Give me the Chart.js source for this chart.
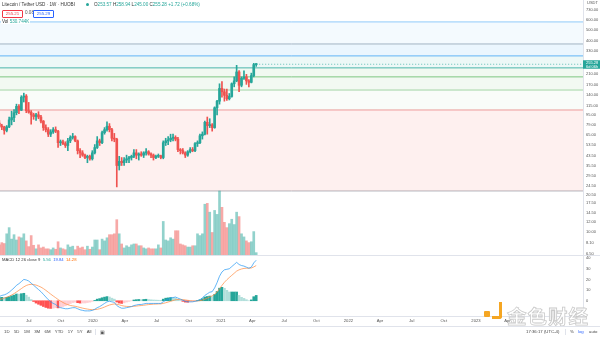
<!DOCTYPE html>
<html>
<head>
<meta charset="utf-8">
<script src="https://cdn.jsdelivr.net/npm/chart.js@4.4.0/dist/chart.umd.min.js"></script>
<style>
  html, body { margin: 0; padding: 0; background: #fff; width: 600px; height: 337px; overflow: hidden; }
  body { position: relative; font-family: "Liberation Sans", Arial, sans-serif; }
  #wrap { position: absolute; left: 0; top: 0; width: 600px; height: 326px; }
  .t { position: absolute; white-space: nowrap; font-size: 4.6px; line-height: 1; color: #131722; }
  .g { color: #26a69a; }
  .box { position: absolute; font-size: 4.4px; line-height: 6px; height: 6px; text-align: center; border-radius: 1px; }
  #footer { position: absolute; left: 0; top: 326px; width: 600px; height: 11px; border-top: 1px solid #e0e3eb; }
  .wm { position: absolute; left: 507px; top: 301px; font-family: "Noto Sans CJK SC", sans-serif; font-weight: 700;
        font-size: 19.5px; letter-spacing: 1px; color: rgba(255,255,255,0.85); -webkit-text-stroke: 0.8px #c9c9c9; }
</style>
</head>
<body>
<div id="wrap"><canvas id="chart" width="600" height="326"></canvas></div>

<!-- legend / header -->
<div class="t" style="left:2px;top:2.5px;color:#333">Litecoin / Tether USD · 1W · HUOBI</div>
<div style="position:absolute;left:86px;top:3px;width:3px;height:3px;border-radius:50%;background:#26a69a"></div>
<div class="t" style="left:94px;top:2.5px;color:#333">O<span class="g">253.57</span> H<span class="g">258.94</span> L<span class="g">245.00</span> C<span class="g">255.28</span> <span class="g">+1.72 (+0.68%)</span></div>
<div class="box" style="left:2px;top:9.5px;width:19px;border:0.7px solid #f23645;color:#f23645;background:#fff">255.21</div>
<div class="t" style="left:25px;top:11px;color:#555">0.08</div>
<div class="box" style="left:33px;top:9.5px;width:19px;border:0.7px solid #2962ff;color:#2962ff;background:#fff">255.29</div>
<div class="t" style="left:1px;top:19.5px;background:#fff;padding:0 1px;color:#333">Vol <span class="g">530.744K</span></div>
<div class="t" style="left:587px;top:1px;font-size:4px;color:#555">USDT</div>
<div class="t" style="left:2px;top:257.5px;font-size:4.2px;color:#333">MACD 12 26 close 9&nbsp; <span class="g">5.56</span>&nbsp; <span style="color:#2962ff">19.84</span>&nbsp; <span style="color:#ff6d00">14.28</span></div>

<!-- watermark -->
<div style="position:absolute;left:484px;top:311px;width:6px;height:6px;background:#f5a623;border-radius:1px"></div>
<div style="position:absolute;left:492px;top:302px;width:10px;height:17px;border:3.5px solid #f5a623;border-left:none;border-top:none;box-sizing:border-box;border-radius:0 0 3px 0"></div>
<div class="wm">金色财经</div>

<div id="footer">
  <div class="t" style="left:4px;top:3px;font-size:4.3px;color:#444;word-spacing:3.2px">1D 5D 1M 3M 6M YTD 1Y 5Y All</div>
  <div style="position:absolute;left:95px;top:2px;width:0.8px;height:6px;background:#e0e3eb"></div>
  <div class="t" style="left:100px;top:2.5px;font-size:5px;color:#555">▣</div>
  <div class="t" style="left:526px;top:3px;font-size:4.3px;color:#444">17:36:17 (UTC-4)</div>
  <div style="position:absolute;left:565px;top:2px;width:0.8px;height:6px;background:#e0e3eb"></div>
  <div class="t" style="left:570px;top:3px;font-size:4.3px;color:#444">%</div>
  <div class="t" style="left:578px;top:3px;font-size:4.3px;color:#2962ff">log</div>
  <div class="t" style="left:589px;top:3px;font-size:4.3px;color:#444">auto</div>
</div>

<script>
// weekly candles, first one = week of 2019-04-08 (38 weeks before 2019-12-30)
const firstWeek = -38;
const opens = [82, 77, 76, 71, 76, 87, 91, 100, 113, 105,
  135, 138, 104, 101, 96, 93, 96, 92, 85, 75,
  72, 66, 69, 72, 70, 56, 57, 55, 53, 58,
  62, 63, 58, 48, 46, 44, 42, 43, 41, 46,
  51, 58, 56, 68, 72, 77, 72, 61, 60, 36,
  39, 38, 40, 41, 42, 43, 46, 44, 45, 44,
  46, 47, 45, 44, 42, 43, 43.5, 42, 56, 58,
  59, 61, 62, 60, 49, 48, 46, 44, 47, 49,
  48, 55, 56, 64, 66, 83, 78, 79, 75, 110,
  125, 160, 150, 140, 131, 137, 175, 185, 220, 170,
  195, 200, 185, 180, 205, 253.57];
const highs = [86, 80, 77, 78, 92, 103, 106, 118, 117, 139,
  146, 142, 122, 104, 99, 99, 102, 95, 86, 79,
  75, 72, 75, 76, 71, 59, 59, 57, 61, 64,
  67, 64, 59, 50, 48, 45, 44, 44, 48, 54,
  63, 60, 70, 75, 84, 81, 74, 67, 61, 43,
  42, 42, 44, 43, 44, 49, 49, 46, 47, 47,
  50, 48, 46, 45, 44, 45, 44, 58, 61, 63,
  66, 66, 64, 62, 50, 50, 47, 48, 51, 51,
  56, 58, 66, 69, 85, 92, 89, 81, 112, 127,
  175, 183, 158, 158, 145, 178, 200, 250, 226, 200,
  225, 210, 190, 215, 260, 258.94];
const lows = [75, 72, 66, 69, 75, 79, 84, 96, 98, 104,
  123, 100, 99, 80, 88, 86, 89, 82, 71, 69,
  63, 63, 67, 68, 51, 53, 54, 51, 48, 56,
  60, 57, 45, 42, 43, 41, 38, 40, 40, 45,
  50, 53, 55, 66, 70, 69, 58, 57, 23.8, 33,
  36, 36, 38, 38, 40, 42, 41, 40, 43, 42,
  44, 44, 42, 40, 41, 42, 41, 41, 53, 54,
  57, 58, 58, 47, 45, 45, 42, 43, 46, 47,
  47, 52, 55, 60, 65, 66, 75, 70, 74, 96,
  118, 135, 125, 127, 128, 135, 165, 182, 150, 165,
  190, 173, 165, 178, 200, 245];
const closes = [77, 76, 71, 76, 87, 91, 100, 113, 105, 135,
  138, 104, 101, 96, 93, 96, 92, 85, 75, 72,
  66, 69, 72, 70, 56, 57, 55, 53, 58, 62,
  63, 58, 48, 46, 44, 42, 43, 41, 46, 51,
  58, 56, 68, 72, 77, 72, 61, 60, 36, 39,
  38, 40, 41, 42, 43, 46, 44, 45, 44, 46,
  47, 45, 44, 42, 43, 43.5, 42, 56, 58, 59,
  61, 62, 60, 49, 48, 46, 44, 47, 49, 48,
  55, 56, 64, 66, 83, 78, 79, 75, 110, 125,
  160, 150, 140, 131, 137, 175, 185, 220, 170, 195,
  200, 185, 180, 205, 253.57, 255.28];
// volume, millions of LTC
const volumes = [2.3, 2.8, 2.6, 4.8, 6.2, 3.6, 4.6, 3.4, 4.1, 3.9,
  4.8, 3.2, 1.9, 4.4, 2.2, 1.4, 2.3, 1.6, 1.8, 1.4,
  1.4, 1.2, 1.6, 1.3, 3.0, 1.6, 1.4, 1.2, 2.3, 1.8,
  2.0, 1.2, 2.0, 1.6, 1.8, 1.2, 2.0, 1.3, 1.8, 3.4,
  3.4, 1.2, 3.6, 3.2, 3.9, 4.6, 4.6, 4.8, 8.0, 4.8,
  2.5, 1.6, 2.1, 1.8, 2.3, 2.5, 2.5, 2.1, 2.1, 1.6,
  1.4, 1.6, 1.4, 1.4, 1.4, 2.3, 1.6, 7.6, 3.4, 3.2,
  3.9, 3.6, 5.5, 5.5, 2.5, 2.3, 2.1, 1.8, 1.8, 2.1,
  2.1, 4.8, 4.4, 4.8, 11.5, 11.7, 9.7, 5.1, 10.1, 9.2,
  14.5, 10.8, 7.4, 6.2, 7.1, 8.1, 6.9, 9.7, 8.7, 4.8,
  4.1, 3.2, 2.8, 3.0, 5.3, 0.53];
// MACD 12 26 9
const macdLine = [4, 5, 5.5, 6.5, 8, 10, 12, 14.5, 16, 18,
  20, 19.5, 18.5, 16.5, 14.5, 12.5, 10.5, 8.5, 6, 3.5,
  1, -1, -2.5, -3.5, -5.5, -6.5, -7, -7.5, -7.5, -7,
  -6.5, -6.5, -7.5, -8.5, -9, -9.5, -9.5, -9.5, -9, -8,
  -6.5, -5.5, -4, -2.5, -1, -0.5, -1, -1.5, -4.5, -6,
  -7, -7, -6.5, -6, -5.5, -4.5, -4, -3.5, -3.5, -3,
  -2.5, -2.5, -2.5, -2.5, -2.5, -2.5, -2.5, -1, 0.5, 1.5,
  2.5, 3, 3.5, 2.5, 1.5, 0.5, -0.5, -1, -1, -1,
  -0.5, 0, 1, 2.5, 5, 6.5, 8, 8.5, 12, 17,
  23, 27, 29, 29.5, 30, 32, 34, 36, 34, 33,
  32.5, 31.5, 30.5, 31.5, 35.5, 38];
const signalLine = [1, 1.8, 2.5, 3.3, 4.2, 5.4, 6.7, 8.2, 9.8, 11.4,
  13, 14.3, 15.1, 15.4, 15.2, 14.7, 13.8, 12.8, 11.4, 9.8,
  8, 6.2, 4.5, 2.9, 1.2, -0.3, -1.6, -2.8, -3.7, -4.4,
  -4.8, -5.2, -5.7, -6.3, -6.9, -7.4, -7.8, -8.2, -8.4, -8.3,
  -8, -7.5, -6.8, -5.9, -4.9, -4, -3.4, -3, -3.3, -3.8,
  -4.5, -5, -5.3, -5.4, -5.4, -5.2, -5, -4.7, -4.5, -4.2,
  -3.9, -3.6, -3.4, -3.2, -3.1, -3, -2.9, -2.5, -1.9, -1.2,
  -0.5, 0.2, 0.9, 1.2, 1.3, 1.1, 0.8, 0.4, 0.1, -0.1,
  -0.2, -0.2, 0.1, 0.6, 1.5, 2.5, 3.6, 4.6, 6.1, 8.3,
  11.2, 14.4, 17.3, 19.7, 21.8, 23.8, 25.8, 27.8, 29, 29.8,
  30.3, 30.5, 30.5, 30.7, 31.7, 33];
const histogram = [3, 3.2, 3, 3.2, 3.8, 4.6, 5.3, 6.3, 6.2, 6.6,
  7, 5.2, 3.4, 1.1, -0.7, -2.2, -3.3, -4.3, -5.4, -6.3,
  -7, -7.2, -7, -6.4, -6.7, -6.2, -5.4, -4.7, -3.8, -2.6,
  -1.7, -1.3, -1.8, -2.2, -2.1, -2.1, -1.7, -1.3, -0.6, 0.3,
  1.5, 2, 2.8, 3.4, 3.9, 3.5, 2.4, 1.5, -1.2, -2.2,
  -2.5, -2, -1.2, -0.6, -0.1, 0.7, 1, 1.2, 1, 1.2,
  1.4, 1.1, 0.9, 0.7, 0.6, 0.5, 0.4, 1.5, 2.4, 2.7,
  3, 2.8, 2.6, 1.3, 0.2, -0.6, -1.3, -1.4, -1.1, -0.9,
  -0.3, 0.2, 0.9, 1.9, 3.5, 4, 4.4, 3.9, 5.9, 8.7,
  11.8, 12.6, 11.7, 9.8, 8.2, 8.2, 8.2, 8.2, 5, 3.2,
  2.2, 1, 0, 0.8, 3.8, 5];

// fib levels drawn on the chart (price) and their bands
const fibLevels = [579, 378, 300, 238, 200, 155, 105.4, 22];
const fibLineColors = ['#90caf9', '#a7b4c2', '#64b5f6', '#4db6ac', '#81c784', '#a5d6a7', '#ef9a9a', '#b2b5be'];
const fibFillColors = ['rgba(33,150,243,0.05)', 'rgba(33,150,243,0.09)', 'rgba(0,150,136,0.07)',
  'rgba(76,175,80,0.08)', 'rgba(129,199,132,0.10)', 'rgba(129,199,132,0.05)', 'rgba(244,67,54,0.08)'];

// axis ticks
const priceTicks = [730, 600, 500, 400, 330, 210, 170, 140, 115, 95, 79, 65, 53.5, 43.5, 35.5, 29.5, 24.5, 20.5, 17.5, 14.5, 12, 10, 8.1, 6.5];
const macdTicks = [40, 30, 20, 10, 0];
// weeks relative to 2019-12-30
const monthWeeks = [-26, -12.86, 0.29, 13.29, 26.29, 39.43, 52.57, 65.43, 78.43, 91.57, 104.71, 117.57, 130.57, 143.71, 156.86, 169.71];
const monthLabels = ['Jul', 'Oct', '2020', 'Apr', 'Jul', 'Oct', '2021', 'Apr', 'Jul', 'Oct', '2022', 'Apr', 'Jul', 'Oct', '2023', 'Apr'];
const countdown = '6d 06h';

const UP = '#26a69a', DOWN = '#ef5350';
const W_MIN = -37.74, W_MAX = 200.6;

const xs = closes.map((c, i) => firstWeek + i);
const candleColors = closes.map((c, i) => c >= opens[i] ? UP : DOWN);
const volColors = closes.map((c, i) => c >= opens[i] ? 'rgba(38,166,154,0.5)' : 'rgba(239,83,80,0.5)');
const histColors = histogram.map((h, i) => {
  const p = i ? histogram[i - 1] : h;
  if (h >= 0) return h >= p ? '#26a69a' : '#b2dfdb';
  return h < p ? '#ff5252' : '#ffcdd2';
});

const bodies = xs.map((x, i) => ({x: x, y: [Math.min(opens[i], closes[i]), Math.max(opens[i], closes[i])]}));
const wicks = xs.map((x, i) => ({x: x, y: [lows[i], highs[i]]}));

const volMax = Math.max(...volumes);
// volume fills the lower quarter of the price pane
const volScaleMax = volMax * 255 / 64;
const volScaleMin = -volMax * 61 / 64;

const fibSets = fibLevels.map((lv, k) => ({
  type: 'line',
  yAxisID: 'y',
  data: [{x: W_MIN, y: lv}, {x: W_MAX, y: lv}],
  borderColor: fibLineColors[k],
  borderWidth: 1,
  pointRadius: 0,
  fill: k < fibLevels.length - 1 ? '+1' : false,
  backgroundColor: fibFillColors[k] || 'transparent'
}));

const lastClose = closes[closes.length - 1];

const noPad = s => { s.paddingTop = 0; s.paddingBottom = 0; };

const paneLines = {
  id: 'paneLines',
  afterDraw(chart) {
    const {ctx, scales} = chart;
    const y = scales.y, m = scales.yMacd;
    const py = y.getPixelForValue(lastClose);
    ctx.save();
    // separator between price and MACD panes
    ctx.strokeStyle = '#e0e3eb';
    ctx.lineWidth = 1;
    ctx.beginPath();
    ctx.moveTo(0, Math.round(m.top) + 0.5);
    ctx.lineTo(chart.width, Math.round(m.top) + 0.5);
    ctx.stroke();
    // last price badge
    ctx.fillStyle = UP;
    ctx.fillRect(y.left, py - 4, chart.width - y.left, 8.5);
    ctx.fillStyle = '#fff';
    ctx.font = '4px "Liberation Sans"';
    ctx.textAlign = 'left';
    ctx.textBaseline = 'middle';
    ctx.fillText(lastClose.toFixed(2), y.left + 3, py - 1.7);
    ctx.fillText(countdown, y.left + 3, py + 2.3);
    ctx.restore();
  }
};

new Chart(document.getElementById('chart'), {
  data: {
    datasets: [
      {type: 'bar', yAxisID: 'y', data: bodies, backgroundColor: candleColors, barThickness: 2, grouped: false, minBarLength: 1},
      {type: 'bar', yAxisID: 'y', data: wicks, backgroundColor: candleColors, barThickness: 1, grouped: false},
      {type: 'line', yAxisID: 'y', data: [{x: xs[xs.length - 1], y: lastClose}, {x: W_MAX, y: lastClose}],
        borderColor: 'rgba(38,166,154,0.7)', borderWidth: 1, borderDash: [1, 2], pointRadius: 0},
      {type: 'line', yAxisID: 'yMacd', data: xs.map((x, i) => ({x: x, y: macdLine[i]})),
        borderColor: '#2196f3', borderWidth: 0.7, pointRadius: 0, tension: 0},
      {type: 'line', yAxisID: 'yMacd', data: xs.map((x, i) => ({x: x, y: signalLine[i]})),
        borderColor: '#ff8a3d', borderWidth: 0.7, pointRadius: 0, tension: 0},
      {type: 'bar', yAxisID: 'yMacd', data: xs.map((x, i) => ({x: x, y: histogram[i]})),
        backgroundColor: histColors, barThickness: 2, grouped: false},
      {type: 'bar', yAxisID: 'yVol', data: xs.map((x, i) => ({x: x, y: volumes[i]})),
        backgroundColor: volColors, barThickness: 2, grouped: false},
      ...fibSets
    ]
  },
  options: {
    responsive: false,
    animation: false,
    devicePixelRatio: 1,
    layout: {padding: 0},
    plugins: {legend: {display: false}, tooltip: {enabled: false}},
    scales: {
      x: {
        type: 'linear',
        offset: false,
        min: W_MIN,
        max: W_MAX,
        grid: {display: false, drawTicks: false},
        border: {display: true, color: '#e0e3eb'},
        ticks: {
          autoSkip: false,
          maxRotation: 0,
          padding: 2,
          color: '#555',
          font: {size: 4.2, family: 'Liberation Sans'},
          callback: v => {
            const k = monthWeeks.indexOf(v);
            return k >= 0 ? monthLabels[k] : '';
          }
        },
        afterBuildTicks: s => { s.ticks = monthWeeks.map(v => ({value: v})); },
        afterFit: s => { s.height = 10; s.paddingLeft = 0; s.paddingRight = 0; }
      },
      y: {
        type: 'logarithmic',
        position: 'right',
        stack: 'panes',
        stackWeight: 255,
        bounds: 'data',
        min: 6.375,
        max: 885,
        grid: {display: false, drawTicks: false},
        border: {display: true, color: '#e0e3eb'},
        ticks: {
          autoSkip: false,
          padding: 3,
          color: '#555',
          font: {size: 4, family: 'Liberation Sans'},
          callback: v => v.toFixed(2)
        },
        afterBuildTicks: s => { s.ticks = priceTicks.map(v => ({value: v})); },
        afterFit: s => { s.width = 17; noPad(s); }
      },
      yMacd: {
        type: 'linear',
        position: 'right',
        stack: 'panes',
        stackWeight: 61,
        bounds: 'data',
        min: -14.3,
        max: 42.9,
        grid: {display: false, drawTicks: false},
        border: {display: true, color: '#e0e3eb'},
        ticks: {
          autoSkip: false,
          padding: 3,
          color: '#555',
          font: {size: 4, family: 'Liberation Sans'},
          callback: v => String(v)
        },
        afterBuildTicks: s => { s.ticks = macdTicks.map(v => ({value: v})); },
        afterFit: s => { s.width = 17; noPad(s); }
      },
      yVol: {
        type: 'linear',
        position: 'right',
        display: false,
        min: volScaleMin,
        max: volScaleMax
      }
    }
  },
  plugins: [paneLines]
});
</script>
</body>
</html>
